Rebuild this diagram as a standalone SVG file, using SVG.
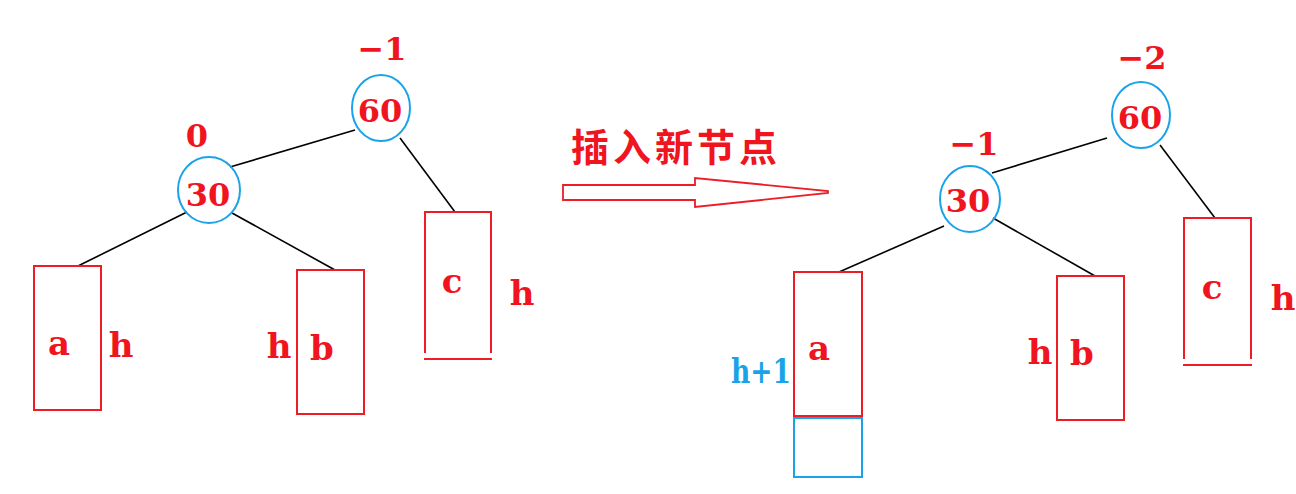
<svg xmlns="http://www.w3.org/2000/svg" width="1296" height="494" viewBox="0 0 1296 494">
<style>
.bg{fill:#fff}
.edge{stroke:#000;stroke-width:1.6;fill:none}
.circ{fill:none;stroke:#1AA3E8;stroke-width:2}
.box{fill:none;stroke:#EE1C25;stroke-width:2}
.bbox{fill:none;stroke:#1AA3E8;stroke-width:2}
.t{font-family:"DejaVu Serif","Liberation Serif",serif;font-weight:bold;fill:#F0141E;font-size:32px;text-anchor:middle}
.l{font-family:"DejaVu Serif","Liberation Serif",serif;font-weight:bold;fill:#F0141E;font-size:34px;text-anchor:middle}
.tb{fill:#1AA3E8}
.cjk{font-family:"Noto Sans CJK SC",sans-serif;font-weight:bold;fill:#F0141E;font-size:38px;letter-spacing:4px}
</style>
<rect class="bg" x="0" y="0" width="1296" height="494"/>
<g id="connectors">
<line class="edge" x1="230" y1="167" x2="355" y2="130"/>
<line class="edge" x1="400" y1="138" x2="455" y2="212"/>
<line class="edge" x1="187" y1="212" x2="78" y2="266"/>
<line class="edge" x1="232" y1="213" x2="335" y2="270"/>
<line class="edge" x1="992" y1="173" x2="1107" y2="138"/>
<line class="edge" x1="1160" y1="145" x2="1215" y2="218"/>
<line class="edge" x1="944" y1="226" x2="839" y2="272"/>
<line class="edge" x1="993" y1="218" x2="1095" y2="276"/>
</g>
<g id="left-60">
<ellipse class="circ" cx="381" cy="108" rx="29" ry="33"/>
<text class="t" x="380" y="122">60</text>
<text class="t" x="382" y="60">−1</text>
</g>
<g id="left-30">
<ellipse class="circ" cx="209" cy="190" rx="31" ry="33"/>
<text class="t" x="208" y="206">30</text>
<text class="t" x="197" y="147">0</text>
</g>
<g id="left-a">
<rect class="box" x="34" y="266" width="67" height="144"/>
<text class="l" x="59" y="355">a</text>
<text class="l" x="121" y="357">h</text>
</g>
<g id="left-b">
<rect class="box" x="297" y="270" width="67" height="144"/>
<text class="l" x="322" y="360">b</text>
<text class="l" x="279" y="358">h</text>
</g>
<g id="left-c">
<path class="box" d="M425,353 V212 H491 V353 M424,359 H492"/>
<text class="l" x="452" y="293">c</text>
<text class="l" x="522" y="305">h</text>
</g>
<g id="insert-arrow">
<text class="cjk" x="571" y="161">插入新节点</text>
<polygon fill="#fff" stroke="#EE1C25" stroke-width="1.8" points="563,185 695,185 695,178 828,191 828,193 695,207 695,200 563,200"/>
</g>
<g id="right-60">
<ellipse class="circ" cx="1141" cy="115" rx="29" ry="33"/>
<text class="t" x="1140" y="129">60</text>
<text class="t" x="1142" y="69">−2</text>
</g>
<g id="right-30">
<ellipse class="circ" cx="970" cy="199" rx="30" ry="33"/>
<text class="t" x="968" y="212">30</text>
<text class="t" x="974" y="155">−1</text>
</g>
<g id="right-a">
<rect class="box" x="794" y="272" width="68" height="144"/>
<rect class="bbox" x="794" y="418" width="68" height="59"/>
<text class="l" x="819" y="360">a</text>
<text class="l tb" x="761" y="383" textLength="60" lengthAdjust="spacingAndGlyphs">h+1</text>
</g>
<g id="right-b">
<rect class="box" x="1057" y="276" width="67" height="144"/>
<text class="l" x="1082" y="365">b</text>
<text class="l" x="1040" y="364">h</text>
</g>
<g id="right-c">
<path class="box" d="M1184,359 V218 H1251 V359 M1183,365 H1252"/>
<text class="l" x="1212" y="299">c</text>
<text class="l" x="1283" y="310">h</text>
</g>
</svg>
